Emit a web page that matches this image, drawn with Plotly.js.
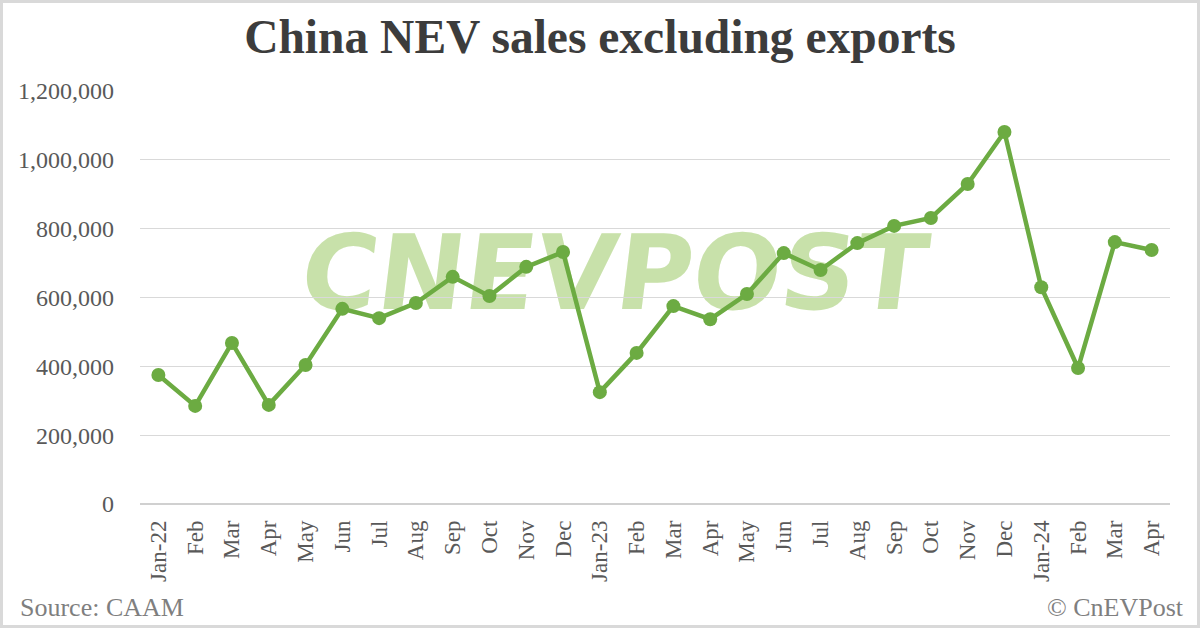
<!DOCTYPE html>
<html>
<head>
<meta charset="utf-8">
<script src="https://cdn.plot.ly/plotly-3.0.1.min.js"></script>
<style>
  html, body { margin: 0; padding: 0; background: #ffffff; }
  #wrap { position: relative; width: 1200px; height: 628px; overflow: hidden; }
  #frame { position: absolute; left: 0; top: 0; width: 1194px; height: 622px; border: 3px solid #d9d9d9; z-index: 3; pointer-events: none; }
  #wm { position: absolute; left: 302px; top: 208px; font-family: "DejaVu Sans", sans-serif; font-weight: bold; font-size: 104px; line-height: 130px; color: #c6e0a6; opacity: 0.95; z-index: 0; white-space: nowrap; transform: skewX(-7deg); }
  #chart { position: absolute; left: 0; top: 0; z-index: 1; }
</style>
</head>
<body>
<div id="wrap">
  <div id="wm">CNEVPOST</div>
  <div id="chart"></div>
  <div id="frame"></div>
</div>
<script>
const months = ["Jan-22","Feb","Mar","Apr","May","Jun","Jul","Aug","Sep","Oct","Nov","Dec",
                "Jan-23","Feb","Mar","Apr","May","Jun","Jul","Aug","Sep","Oct","Nov","Dec",
                "Jan-24","Feb","Mar","Apr"];
const sales = [375000, 285000, 468000, 288000, 404000, 567000, 540000, 584000, 660000, 604000, 689000, 732000,
               325000, 439000, 575000, 537000, 610000, 729000, 680000, 758000, 808000, 831000, 930000, 1081000,
               630000, 395000, 761000, 738000];
const yTicks = [0, 200000, 400000, 600000, 800000, 1000000, 1200000];
const yTickText = ["0","200,000","400,000","600,000","800,000","1,000,000","1,200,000"];

const xIdx = months.map((m, i) => i);

const trace = {
  type: "scatter",
  mode: "lines+markers",
  x: xIdx,
  y: sales,
  line: { color: "#6cab42", width: 4.5 },
  marker: { color: "#6cab42", size: 14 },
  hoverinfo: "skip"
};

const serif = "Liberation Serif, Times New Roman, serif";

const layout = {
  width: 1200,
  height: 628,
  paper_bgcolor: "rgba(0,0,0,0)",
  plot_bgcolor: "rgba(0,0,0,0)",
  margin: { l: 140, r: 30, t: 91, b: 124 },
  showlegend: false,
  title: {
    text: "<b>China NEV sales excluding exports</b>",
    font: { family: serif, size: 47.5, color: "#3c3c3c" },
    x: 0.5, xanchor: "center", xref: "container",
    y: 1 - 20/628, yref: "container", yanchor: "top"
  },
  xaxis: {
    range: [-0.5, 27.5],
    tickmode: "array",
    tickvals: xIdx,
    ticktext: months,
    tickangle: -90,
    showgrid: false,
    zeroline: false,
    showline: false,
    ticks: "",
    ticklabelstandoff: 11,
    tickfont: { family: serif, size: 23, color: "#595959" },
    fixedrange: true
  },
  yaxis: {
    range: [0, 1200000],
    tickmode: "array",
    tickvals: yTicks,
    ticktext: yTickText,
    showgrid: true,
    gridcolor: "#d9d9d9",
    gridwidth: 1.3,
    zeroline: true,
    zerolinecolor: "#d0d0d0",
    zerolinewidth: 1.5,
    showline: false,
    ticks: "",
    ticklabelstandoff: 25,
    tickfont: { family: serif, size: 24, color: "#595959" },
    fixedrange: true
  },
  annotations: [
    { text: "Source: CAAM", xref: "paper", yref: "paper", x: -122/1030, y: -(624-504)/413, xanchor: "left", yanchor: "bottom",
      showarrow: false, font: { family: serif, size: 26, color: "#7f7f7f" } },
    { text: "© CnEVPost", xref: "paper", yref: "paper", x: (1186-140)/1030, y: -(624-504)/413, xanchor: "right", yanchor: "bottom",
      showarrow: false, font: { family: serif, size: 26, color: "#7f7f7f" } }
  ]
};

Plotly.newPlot("chart", [trace], layout, { staticPlot: true, displayModeBar: false });
</script>
</body>
</html>
